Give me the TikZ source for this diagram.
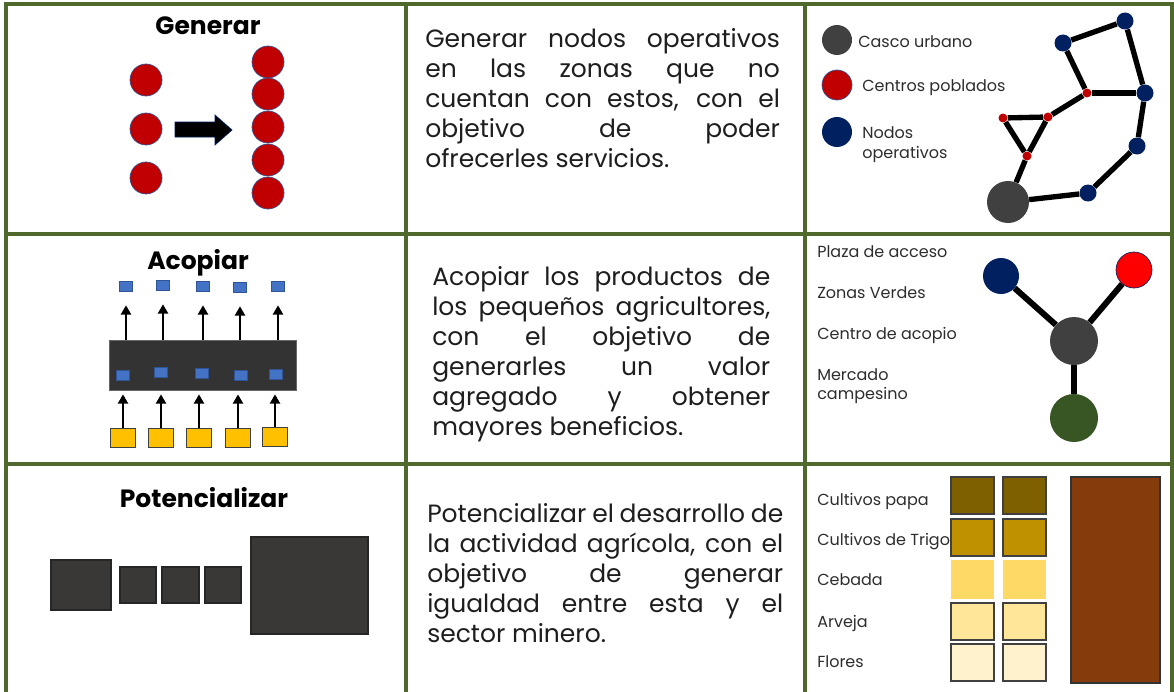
\documentclass[tikz,border=0pt]{standalone}
\usepackage{fontspec}
\setmainfont{Poppins}
\usetikzlibrary{arrows.meta}
\definecolor{gridc}{RGB}{79,105,45}
\definecolor{cred}{RGB}{192,0,0}
\definecolor{cbrd}{RGB}{47,85,151}
\definecolor{cnavy}{RGB}{0,32,96}
\definecolor{cgray}{RGB}{64,64,64}
\definecolor{cblue}{RGB}{68,114,196}
\definecolor{cyellow}{RGB}{255,192,0}
\definecolor{cdark}{RGB}{58,56,54}
\definecolor{cpress}{RGB}{51,51,51}
\definecolor{cgreen}{RGB}{55,86,35}
\definecolor{rowA}{RGB}{127,96,0}
\definecolor{rowB}{RGB}{191,144,0}
\definecolor{rowC}{RGB}{255,217,102}
\definecolor{rowD}{RGB}{255,230,153}
\definecolor{rowE}{RGB}{255,242,204}
\definecolor{cbrown}{RGB}{132,60,12}
\definecolor{ctext}{RGB}{30,30,30}
\definecolor{clabel}{RGB}{45,45,45}
\newcommand\jline[1]{\makebox[\linewidth][s]{#1}\\}
\begin{document}
\begin{tikzpicture}[x=0.75pt,y=-0.75pt,
  gridline/.style={draw=gridc, line width=2.3pt, line join=miter},
  title/.style={anchor=base, inner sep=0, font=\fontsize{18.75pt}{22.5pt}\selectfont\bfseries, text=black},
  body/.style={anchor=base west, inner sep=0, font=\fontsize{18.75pt}{22.5pt}\selectfont, text=ctext},
  lbl/.style={anchor=base west, inner sep=0, font=\fontsize{12pt}{14pt}\selectfont, text=clabel},
  rdot/.style={circle, inner sep=0, minimum size=24pt, fill=cred, draw=cbrd, line width=0.5pt},
  nav/.style={circle, inner sep=0, minimum size=12.75pt, fill=cnavy},
  sred/.style={circle, inner sep=0, minimum size=6.75pt, fill=cred},
  legdot/.style={circle, inner sep=0, minimum size=22.5pt},
  edge/.style={line width=4pt, black},
  yedge/.style={line width=4.5pt, black},
  usq/.style={rectangle, inner sep=0, minimum width=9.75pt, minimum height=7.5pt, fill=cblue, draw=cbrd, line width=0.4pt},
  ysq/.style={rectangle, inner sep=0, minimum width=18.75pt, minimum height=14.25pt, fill=cyellow, draw=cgray, line width=0.6pt},
  arr/.style={line width=2.2pt, black, -{Triangle[width=7.5pt,length=7pt]}},
  dsq/.style={rectangle, inner sep=0, fill=cdark, draw=black!85, line width=0.8pt},
  crop/.style={rectangle, inner sep=0, minimum width=32.25pt, minimum height=27.75pt, draw=cgray, line width=0.8pt}
]
\useasboundingbox (0,0) rectangle (1174,692);
\fill[white] (0,0) rectangle (1174,692);

% ---------- grid ----------
\draw[gridline] (6,692) -- (6,4) -- (1172,4) -- (1172,692);
\draw[gridline] (6,234) -- (1172,234);
\draw[gridline] (6,464) -- (1172,464);
\draw[gridline] (406,4) -- (406,692);
\draw[gridline] (805,4) -- (805,692);

% ---------- row 1 : Generar ----------
\node[title] (tg) at (208,35) {Generar};
\node[rdot] (l1) at (146,80) {};
\node[rdot] (l2) at (146,129) {};
\node[rdot] (l3) at (146,178) {};
\fill[black, draw=cnavy, line width=0.5pt] (175,122) -- (215,122) -- (215,115) -- (232,130) -- (215,145) -- (215,137) -- (175,137) -- cycle;
\node[rdot] (r1) at (268,62) {};
\node[rdot] (r2) at (268,94) {};
\node[rdot] (r3) at (268,127) {};
\node[rdot] (r4) at (268,160) {};
\node[rdot] (r5) at (268,193) {};

\node[body] (dg) at (425,48) {\parbox[t]{266pt}{%
\jline{Generar nodos operativos}%
\jline{en las zonas que no}%
\jline{cuentan con estos, con el}%
\jline{objetivo de poder}%
ofrecerles servicios.}};

\node[legdot, fill=cgray] (lc) at (837,40) {};
\node[legdot, fill=cred, draw=cbrd, line width=0.5pt] (lr) at (837,85) {};
\node[legdot, fill=cnavy] (ln) at (837,132) {};
\node[lbl] (tc) at (858,48) {Casco urbano};
\node[lbl] (tr) at (862,92) {Centros poblados};
\node[lbl] (tn1) at (862,138) {Nodos};
\node[lbl] (tn2) at (862,158) {operativos};

\node[nav] (nA) at (1125,21) {};
\node[nav] (nB) at (1063,43) {};
\node[sred] (nC) at (1087,93) {};
\node[nav] (nD) at (1145,93) {};
\node[sred] (nE) at (1048,117) {};
\node[sred] (nF) at (1003,118) {};
\node[sred] (nG) at (1027,156) {};
\node[nav] (nH) at (1137,146) {};
\node[nav] (nI) at (1088,193) {};
\node[circle, inner sep=0, minimum size=31.5pt, fill=cgray] (nJ) at (1008,202) {};
\draw[edge] (nA) -- (nB);
\draw[edge] (nA) -- (nD);
\draw[edge] (nB) -- (nC);
\draw[edge] (nC) -- (nD);
\draw[edge] (nC) -- (nE);
\draw[edge] (nE) -- (nF);
\draw[edge] (nF) -- (nG);
\draw[edge] (nG) -- (nE);
\draw[edge] (nG) -- (nJ);
\draw[edge] (nJ) -- (nI);
\draw[edge] (nI) -- (nH);
\draw[edge] (nH) -- (nD);

% ---------- row 2 : Acopiar ----------
\node[title] (ta) at (198,269) {Acopiar};
\node[usq] (u1) at (126,286) {};
\node[usq] (u2) at (163,285) {};
\node[usq] (u3) at (203,286) {};
\node[usq] (u4) at (240,287) {};
\node[usq] (u5) at (278,286) {};
\node[rectangle, inner sep=0, minimum width=140.25pt, minimum height=37.5pt, fill=cpress, draw=black!60, line width=0.5pt] (press) at (202.5,365) {};
\node[usq] (b1) at (123,375) {};
\node[usq] (b2) at (161,372) {};
\node[usq] (b3) at (202,373) {};
\node[usq] (b4) at (241,375) {};
\node[usq] (b5) at (276,374) {};
\node[ysq] (y1) at (123,438) {};
\node[ysq] (y2) at (161,438) {};
\node[ysq] (y3) at (199,438) {};
\node[ysq] (y4) at (238,438) {};
\node[ysq] (y5) at (275,437) {};
\foreach \i in {1,...,5} {
  \draw[arr] (u\i.south |- press.north) -- ([yshift=-10.5pt]u\i.south);
  \draw[arr] (y\i.north) -- ([yshift=-3pt]y\i.north |- press.south);
}

\node[body] (da) at (432,285) {\parbox[t]{253.5pt}{%
\jline{Acopiar los productos de}%
\jline{los pequeños agricultores,}%
\jline{con el objetivo de}%
\jline{generarles un valor}%
\jline{agregado y obtener}%
mayores beneficios.}};

\node[lbl] (pa) at (817,257) {Plaza de acceso};
\node[lbl] (zv) at (817,298) {Zonas Verdes};
\node[lbl] (ca) at (817,339) {Centro de acopio};
\node[lbl] (mc1) at (817,380) {Mercado};
\node[lbl] (mc2) at (817,399) {campesino};
\node[circle, inner sep=0, minimum size=27pt, fill=cnavy] (ya) at (1001,276) {};
\node[circle, inner sep=0, minimum size=27pt, fill=red, draw=cnavy, line width=0.5pt] (yb) at (1134,270) {};
\node[circle, inner sep=0, minimum size=36pt, fill=cgray] (yc) at (1074,341) {};
\node[circle, inner sep=0, minimum size=36pt, fill=cgreen] (yd) at (1074,418) {};
\draw[yedge] (ya) -- (yc);
\draw[yedge] (yb) -- (yc);
\draw[yedge] (yc) -- (yd);

% ---------- row 3 : Potencializar ----------
\node[title] (tp) at (204,507) {Potencializar};
\node[dsq, minimum width=45pt, minimum height=37.5pt] (s1) at (81,585) {};
\node[dsq, minimum width=27pt, minimum height=27pt] (s2) at (138,585) {};
\node[dsq, minimum width=27.75pt, minimum height=27pt] (s3) at (180.5,585) {};
\node[dsq, minimum width=27pt, minimum height=27pt] (s4) at (223,585) {};
\node[dsq, minimum width=87.75pt, minimum height=72.75pt] (s5) at (309.5,585.5) {};

\node[body] (dp) at (427,522) {\parbox[t]{267pt}{%
\jline{Potencializar el desarrollo de}%
\jline{la actividad agrícola, con el}%
\jline{objetivo de generar}%
\jline{igualdad entre esta y el}%
sector minero.}};

\node[lbl] (k1) at (817,505) {Cultivos papa};
\node[lbl] (k2) at (817,545) {Cultivos de Trigo};
\node[lbl] (k3) at (817,585) {Cebada};
\node[lbl] (k4) at (817,627) {Arveja};
\node[lbl] (k5) at (817,667) {Flores};
\node[crop, fill=rowA] (a1) at (972.5,495.5) {};
\node[crop, fill=rowA] (a2) at (1024.5,495.5) {};
\node[crop, fill=rowB] (b21) at (972.5,537.5) {};
\node[crop, fill=rowB] (b22) at (1024.5,537.5) {};
\node[crop, fill=rowC, draw=none, minimum height=29.25pt] (c1) at (972.5,579.5) {};
\node[crop, fill=rowC, draw=none, minimum height=29.25pt] (c2) at (1024.5,579.5) {};
\node[crop, fill=rowD] (d1) at (972.5,621.5) {};
\node[crop, fill=rowD] (d2) at (1024.5,621.5) {};
\node[crop, fill=rowE] (e1) at (972.5,662.5) {};
\node[crop, fill=rowE] (e2) at (1024.5,662.5) {};
\node[rectangle, inner sep=0, minimum width=66.75pt, minimum height=154.5pt, fill=cbrown, draw=black!80, line width=0.8pt] (big) at (1115.5,580) {};
\end{tikzpicture}
\end{document}
